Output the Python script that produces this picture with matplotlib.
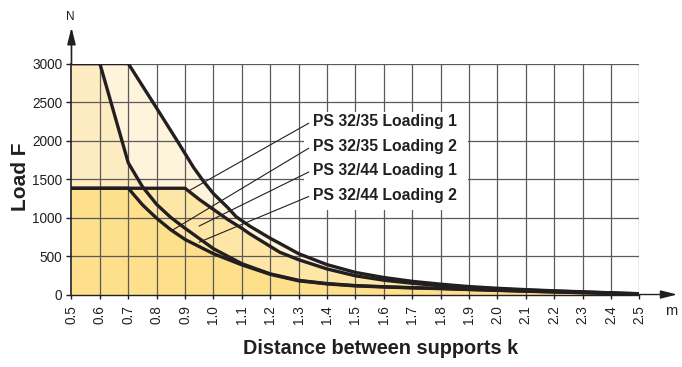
import numpy as np
import matplotlib.pyplot as plt
from matplotlib.patches import Rectangle

plt.rcParams['font.family'] = ['Liberation Sans', 'DejaVu Sans']

# curve values (k in m, F in N)
k_a = [0.5, 0.7, 0.8, 0.875, 0.93, 0.965, 1.0, 1.05, 1.08, 1.127, 1.2, 1.233, 1.3, 1.4,
       1.5, 1.6, 1.7, 1.8, 1.9, 2.0, 2.1, 2.2, 2.3, 2.4, 2.5]
f_a = [3000, 3000, 2420, 1980, 1650, 1470, 1310, 1130, 1010, 890, 730, 665, 530, 388,
       287, 221, 171, 134, 103, 81, 63, 48, 35, 22, 10]

k_b = [0.5, 0.6, 0.7, 0.75, 0.8, 0.85, 0.9, 1.0, 1.1, 1.2, 1.3, 1.4, 1.5, 1.6, 1.7,
       1.8, 1.9, 2.0, 2.1, 2.2, 2.3, 2.4, 2.5]
f_b = [3000, 3000, 1710, 1400, 1170, 1000, 860, 595, 400, 268, 184, 142, 116, 101, 89,
       79, 67, 56, 45, 35, 25, 15, 6]

k_c = [0.5, 0.9, 0.95, 1.0, 1.05, 1.1, 1.127, 1.2, 1.233, 1.3, 1.4, 1.5, 1.6, 1.7,
       1.8, 1.9, 2.0, 2.1, 2.2, 2.3, 2.4, 2.5]
f_c = [1380, 1380, 1235, 1105, 975, 860, 790, 625, 550, 452, 332, 243, 186, 146,
       114, 90, 72, 57, 44, 32, 20, 9]

k_d = [0.5, 0.7, 0.75, 0.8, 0.85, 0.9, 1.0, 1.1, 1.2, 1.3, 1.4, 1.5, 1.6, 1.7, 1.8,
       1.9, 2.0, 2.1, 2.2, 2.3, 2.4, 2.5]
f_d = [1380, 1380, 1165, 990, 840, 715, 530, 385, 262, 178, 138, 112, 98, 86, 77,
       65, 54, 43, 33, 24, 14, 5]

labels = ['PS 32/35 Loading 1', 'PS 32/35 Loading 2',
          'PS 32/44 Loading 1', 'PS 32/44 Loading 2']
label_y = [2244, 1919, 1610, 1292]
leader_end = [(0.915, 1350), (0.855, 835), (0.95, 890), (0.95, 680)]

x_ticks = np.round(np.arange(0.5, 2.51, 0.1), 1)
y_ticks = [0, 500, 1000, 1500, 2000, 2500, 3000]

ink = '#231f20'

fig = plt.figure(figsize=(6.82, 3.67), dpi=100)
ax = fig.add_axes([0.1048, 0.1975, 0.8328, 0.6294])
ax.set_xlim(0.5, 2.5)
ax.set_ylim(0, 3000)

# layered fills
ax.fill_between(k_a, 0, f_a, color='#fef4dc', lw=0, zorder=1)
ax.fill_between(k_b, 0, f_b, color='#fdecc2', lw=0, zorder=1)
ax.fill_between(k_c, 0, f_c, color='#fee6a6', lw=0, zorder=1)
ax.fill_between(k_d, 0, f_d, color='#fddf8c', lw=0, zorder=1)

# grid
ax.vlines(x_ticks[1:], 0, 3000, color='#5a5a5a', lw=0.9, zorder=2)
ax.hlines(y_ticks[1:], 0.5, 2.5, color='#5a5a5a', lw=0.9, zorder=2)

# white box behind labels
ax.add_patch(Rectangle((1.32, 1097), 0.575, 1273, fc='white', ec='none', zorder=3))

for k, f in [(k_a, f_a), (k_b, f_b), (k_c, f_c), (k_d, f_d)]:
    ax.plot(k, f, color=ink, lw=2.4, solid_joinstyle='round', zorder=4)

for lab, ly, end in zip(labels, label_y, leader_end):
    ax.text(1.35, ly, lab, fontsize=11.3, fontweight='bold', color=ink,
            ha='left', va='center', zorder=5)
    ax.plot([1.335, end[0]], [ly - 20, end[1]], color=ink, lw=0.8, zorder=5)

for s in ['top', 'right']:
    ax.spines[s].set_visible(False)
ax.spines['left'].set_color(ink)
ax.spines['bottom'].set_color(ink)
ax.spines['left'].set_linewidth(1.2)
ax.spines['bottom'].set_linewidth(1.0)

ax.set_xticks(x_ticks)
ax.set_xticklabels([f'{v:.1f}' for v in x_ticks], rotation=90)
ax.set_yticks(y_ticks)
ax.set_yticklabels([str(v) for v in y_ticks])
ax.tick_params(axis='x', length=3, width=1, color=ink, labelsize=9.8,
               labelcolor=ink, pad=4.5)
ax.tick_params(axis='y', length=3.6, width=1, color=ink, labelsize=9.8,
               labelcolor=ink, pad=3)

# axis arrows
ax.annotate('', xy=(0.5, 3470), xytext=(0.5, 2990), xycoords='data',
            arrowprops=dict(arrowstyle='-|>,head_length=1.0,head_width=0.25',
                            color=ink, lw=1.2, mutation_scale=10,
                            shrinkA=0, shrinkB=0),
            annotation_clip=False)
ax.annotate('', xy=(2.633, 0), xytext=(2.49, 0), xycoords='data',
            arrowprops=dict(arrowstyle='-|>,head_length=1.0,head_width=0.25',
                            color=ink, lw=1.0, mutation_scale=10,
                            shrinkA=0, shrinkB=0),
            annotation_clip=False)

fig.text(70 / 682, 1 - 16.5 / 367, 'N', fontsize=8.5, color=ink, ha='center', va='center')
fig.text(671 / 682, 1 - 311 / 367, 'm', fontsize=10.5, color=ink, ha='center', va='center')
fig.text(21 / 682, 1 - 177 / 367, 'Load F', fontsize=15, fontweight='bold', color=ink,
         rotation=90, ha='center', va='center')
fig.text(380.5 / 682, 1 - 349 / 367, 'Distance between supports k', fontsize=14.3,
         fontweight='bold', color=ink, ha='center', va='center')

fig.savefig('out.png', dpi=100)
